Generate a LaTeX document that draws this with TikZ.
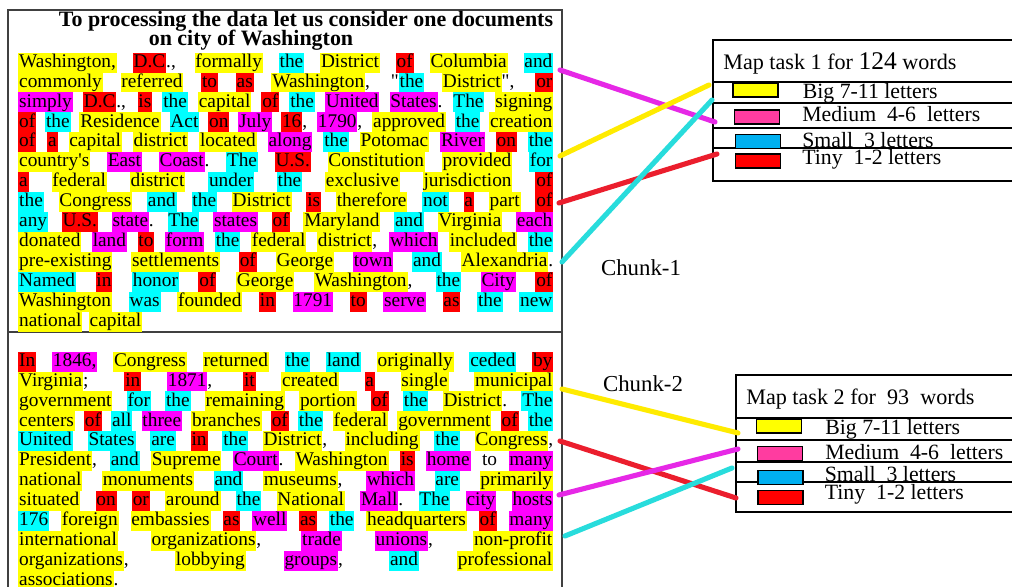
\documentclass[tikz,border=0pt]{standalone}
\usepackage{fontspec}
\setmainfont{Liberation Serif}
\usepackage{xcolor}
\usepackage{tikz}
\usetikzlibrary{positioning}

\definecolor{hlyellow}{RGB}{255,255,0}
\definecolor{hlmagenta}{RGB}{255,0,255}
\definecolor{hlcyan}{RGB}{0,255,255}
\definecolor{hlred}{RGB}{255,0,0}
\definecolor{swpink}{RGB}{255,60,160}
\definecolor{swblue}{RGB}{0,176,240}
\definecolor{lnyellow}{RGB}{255,235,0}
\definecolor{lnmagenta}{RGB}{230,40,230}
\definecolor{lnred}{RGB}{235,30,45}
\definecolor{lncyan}{RGB}{40,220,220}

% highlighted words
\newcommand{\hlw}[2]{{\fboxsep=0pt\colorbox{#1}{\kern0.5pt\rule[-3pt]{0pt}{11.34pt}#2\kern0.5pt}}}
\newcommand{\wY}[1]{\hlw{hlyellow}{#1}}
\newcommand{\wM}[1]{\hlw{hlmagenta}{#1}}
\newcommand{\wC}[1]{\hlw{hlcyan}{#1}}
\newcommand{\wR}[1]{\hlw{hlred}{#1}}
\newcommand{\wline}[1]{\par\noindent\hbox to 10.7cm{\spaceskip=2.75pt plus 1fil\relax\xspaceskip=2.75pt plus 1fil\relax #1}\par}
\newcommand{\wlast}[1]{\par\noindent\hbox{#1}\par}

\tikzstyle{wordblock} = [anchor=north west, inner sep=0pt, text width=10.7cm, font=\fontsize{11}{11.34}\selectfont]
\tikzstyle{titletext} = [inner sep=0pt, font=\bfseries\fontsize{12.5}{13}\selectfont]
\tikzstyle{maptitle} = [anchor=west, inner sep=0pt, font=\fontsize{12.6}{14}\selectfont]
\tikzstyle{swatch} = [rectangle, draw=black, line width=0.6pt, minimum width=0.9cm, minimum height=0.28cm, inner sep=0pt]
\tikzstyle{legendtext} = [anchor=west, inner sep=0pt, font=\fontsize{12.4}{14}\selectfont]
\tikzstyle{chunklabel} = [inner sep=0pt, font=\fontsize{13}{14}\selectfont]
\tikzstyle{link} = [line width=2.9pt, line cap=round]

\begin{document}
\begin{tikzpicture}[x=0.02cm, y=-0.02cm]

\useasboundingbox (0,0) rectangle (1012,587);

% document box
\draw [line width=0.8pt, black!75] (8,10) rectangle (562,600);
\draw [line width=0.8pt, black!75] (8,332) -- (562,332);

\node (titleone) [titletext] at (306,21) {To processing the data let us consider one documents};
\node (titletwo) [titletext] at (251,40) {on city of Washington};

\node (chunkone) [wordblock] at (18,47) {%
\wline{\wY{Washington,} \wR{D.C}., \wY{formally} \wC{the} \wY{District} \wR{of} \wY{Columbia} \wC{and}}%
\wline{\wY{commonly} \wY{referred} \wR{to} \wR{as} \wY{Washington}, \textquotedbl\wC{the} \wY{District}\textquotedbl, \wR{or}}%
\wline{\wM{simply} \wR{D.C}., \wR{is} \wC{the} \wY{capital} \wR{of} \wC{the} \wM{United} \wM{States}. \wC{The} \wY{signing}}%
\wline{\wR{of} \wC{the} \wY{Residence} \wC{Act} \wR{on} \wM{July} \wR{16}, \wM{1790}, \wY{approved} \wC{the} \wY{creation}}%
\wline{\wR{of} \wR{a} \wY{capital} \wY{district} \wY{located} \wM{along} \wC{the} \wY{Potomac} \wM{River} \wR{on} \wC{the}}%
\wline{\wY{country\textquotesingle s} \wM{East} \wM{Coast}. \wC{The} \wR{U.S.} \wY{Constitution} \wY{provided} \wC{for}}%
\wline{\wR{a} \wY{federal} \wY{district} \wC{under} \wC{the} \wY{exclusive} \wY{jurisdiction} \wR{of}}%
\wline{\wC{the} \wY{Congress} \wC{and} \wC{the} \wY{District} \wR{is} \wY{therefore} \wC{not} \wR{a} \wY{part} \wR{of}}%
\wline{\wC{any} \wR{U.S.} \wM{state}. \wC{The} \wM{states} \wR{of} \wY{Maryland} \wC{and} \wY{Virginia} \wM{each}}%
\wline{\wY{donated} \wM{land} \wR{to} \wM{form} \wC{the} \wY{federal} \wY{district}, \wM{which} \wY{included} \wC{the}}%
\wline{\wY{pre-existing} \wY{settlements} \wR{of} \wY{George} \wM{town} \wC{and} \wY{Alexandria}.}%
\wline{\wC{Named} \wR{in} \wC{honor} \wR{of} \wY{George} \wY{Washington}, \wC{the} \wM{City} \wR{of}}%
\wline{\wY{Washington} \wC{was} \wY{founded} \wR{in} \wM{1791} \wR{to} \wM{serve} \wR{as} \wC{the} \wC{new}}%
\wlast{\wY{national} \wY{capital}}};

\node (chunktwo) [wordblock] at (18,346) {%
\wline{\wR{In} \wM{1846,} \wY{Congress} \wY{returned} \wC{the} \wC{land} \wY{originally} \wC{ceded} \wR{by}}%
\wline{\wY{Virginia}; \wR{in} \wM{1871}, \wR{it} \wY{created} \wR{a} \wY{single} \wY{municipal}}%
\wline{\wY{government} \wC{for} \wC{the} \wY{remaining} \wY{portion} \wR{of} \wC{the} \wY{District}. \wC{The}}%
\wline{\wY{centers} \wR{of} \wC{all} \wM{three} \wY{branches} \wR{of} \wC{the} \wY{federal} \wY{government} \wR{of} \wC{the}}%
\wline{\wC{United} \wC{States} \wC{are} \wR{in} \wC{the} \wY{District}, \wY{including} \wC{the} \wY{Congress},}%
\wline{\wY{President}, \wC{and} \wY{Supreme} \wM{Court}. \wY{Washington} \wR{is} \wM{home} to \wM{many}}%
\wline{\wY{national} \wY{monuments} \wC{and} \wY{museums}, \wM{which} \wC{are} \wY{primarily}}%
\wline{\wY{situated} \wR{on} \wR{or} \wY{around} \wC{the} \wY{National} \wM{Mall}. \wC{The} \wM{city} \wM{hosts}}%
\wline{\wC{176} \wY{foreign} \wY{embassies} \wR{as} \wM{well} \wR{as} \wC{the} \wY{headquarters} \wR{of} \wM{many}}%
\wline{\wY{international} \wY{organizations}, \wM{trade} \wM{unions}, \wY{non-profit}}%
\wline{\wY{organizations}, \wY{lobbying} \wM{groups}, \wC{and} \wY{professional}}%
\wlast{\wY{associations}.}};

% map task 1
\draw [line width=0.6pt] (713,40) rectangle (1020,181);
\foreach \yy in {82,103,128,148}
  \draw [line width=0.6pt] (713,\yy) -- (1020,\yy);
\node (mapone) [maptitle] at (723,63) {Map task 1 for {\fontsize{14.5}{14}\selectfont 124} words};
\node (bigone) [swatch, fill=hlyellow] at (755.5,90) {};
\node (medone) [swatch, fill=swpink] at (757,117) {};
\node (smallone) [swatch, fill=swblue] at (758,141.5) {};
\node (tinyone) [swatch, fill=hlred] at (758,161) {};
\node (bigonetxt) [legendtext, right=0.48cm of bigone, yshift=-2pt] {Big 7-11 letters};
\node (medonetxt) [legendtext, right=0.44cm of medone, yshift=1.4pt] {Medium\ \ 4-6\ \ letters};
\node (smallonetxt) [legendtext, right=0.42cm of smallone, yshift=1.1pt] {Small\ \ 3 letters};
\node (tinyonetxt) [legendtext, right=0.42cm of tinyone, yshift=0.85pt] {Tiny\ \ 1-2 letters};

% map task 2
\draw [line width=0.6pt] (736,375) rectangle (1020,512);
\foreach \yy in {418,440,462,482}
  \draw [line width=0.6pt] (736,\yy) -- (1020,\yy);
\node (maptwo) [maptitle] at (746,399) {Map task 2 for\ \ 93\ \ words};
\node (bigtwo) [swatch, fill=hlyellow] at (779,426) {};
\node (medtwo) [swatch, fill=swpink] at (780,453.5) {};
\node (smalltwo) [swatch, fill=swblue] at (780.5,477.5) {};
\node (tinytwo) [swatch, fill=hlred] at (780.5,497.5) {};
\node (bigtwotxt) [legendtext, right=0.46cm of bigtwo, yshift=-2pt] {Big 7-11 letters};
\node (medtwotxt) [legendtext, right=0.44cm of medtwo, yshift=1.1pt] {Medium\ \ 4-6\ \ letters};
\node (smalltwotxt) [legendtext, right=0.42cm of smalltwo, yshift=1.7pt] {Small\ \ 3 letters};
\node (tinytwotxt) [legendtext, right=0.42cm of tinytwo, yshift=1.7pt] {Tiny\ \ 1-2 letters};

\node (labelone) [chunklabel] at (641,268) {Chunk-1};
\node (labeltwo) [chunklabel] at (643,384) {Chunk-2};

% connector ends
\coordinate (m1a) at (560,70);   \coordinate (m1b) at (715,122);
\coordinate (y1a) at (560,156);  \coordinate (y1b) at (709,85);
\coordinate (r1a) at (559,203);  \coordinate (r1b) at (717,154);
\coordinate (c1a) at (562,262);  \coordinate (c1b) at (712,100);
\coordinate (y2a) at (562,389);  \coordinate (y2b) at (738,433);
\coordinate (r2a) at (560,441);  \coordinate (r2b) at (736,498);
\coordinate (m2a) at (559,495);  \coordinate (m2b) at (738,449);
\coordinate (c2a) at (565,536);  \coordinate (c2b) at (732,468);

\draw [link, lnmagenta] (m1a) -- (m1b);
\draw [link, lnyellow] (y1a) -- (y1b);
\draw [link, lnred] (r1a) -- (r1b);
\draw [link, lncyan] (c1a) -- (c1b);
\draw [link, lnyellow] (y2a) -- (y2b);
\draw [link, lnred] (r2a) -- (r2b);
\draw [link, lnmagenta] (m2a) -- (m2b);
\draw [link, lncyan] (c2a) -- (c2b);

\end{tikzpicture}
\end{document}
